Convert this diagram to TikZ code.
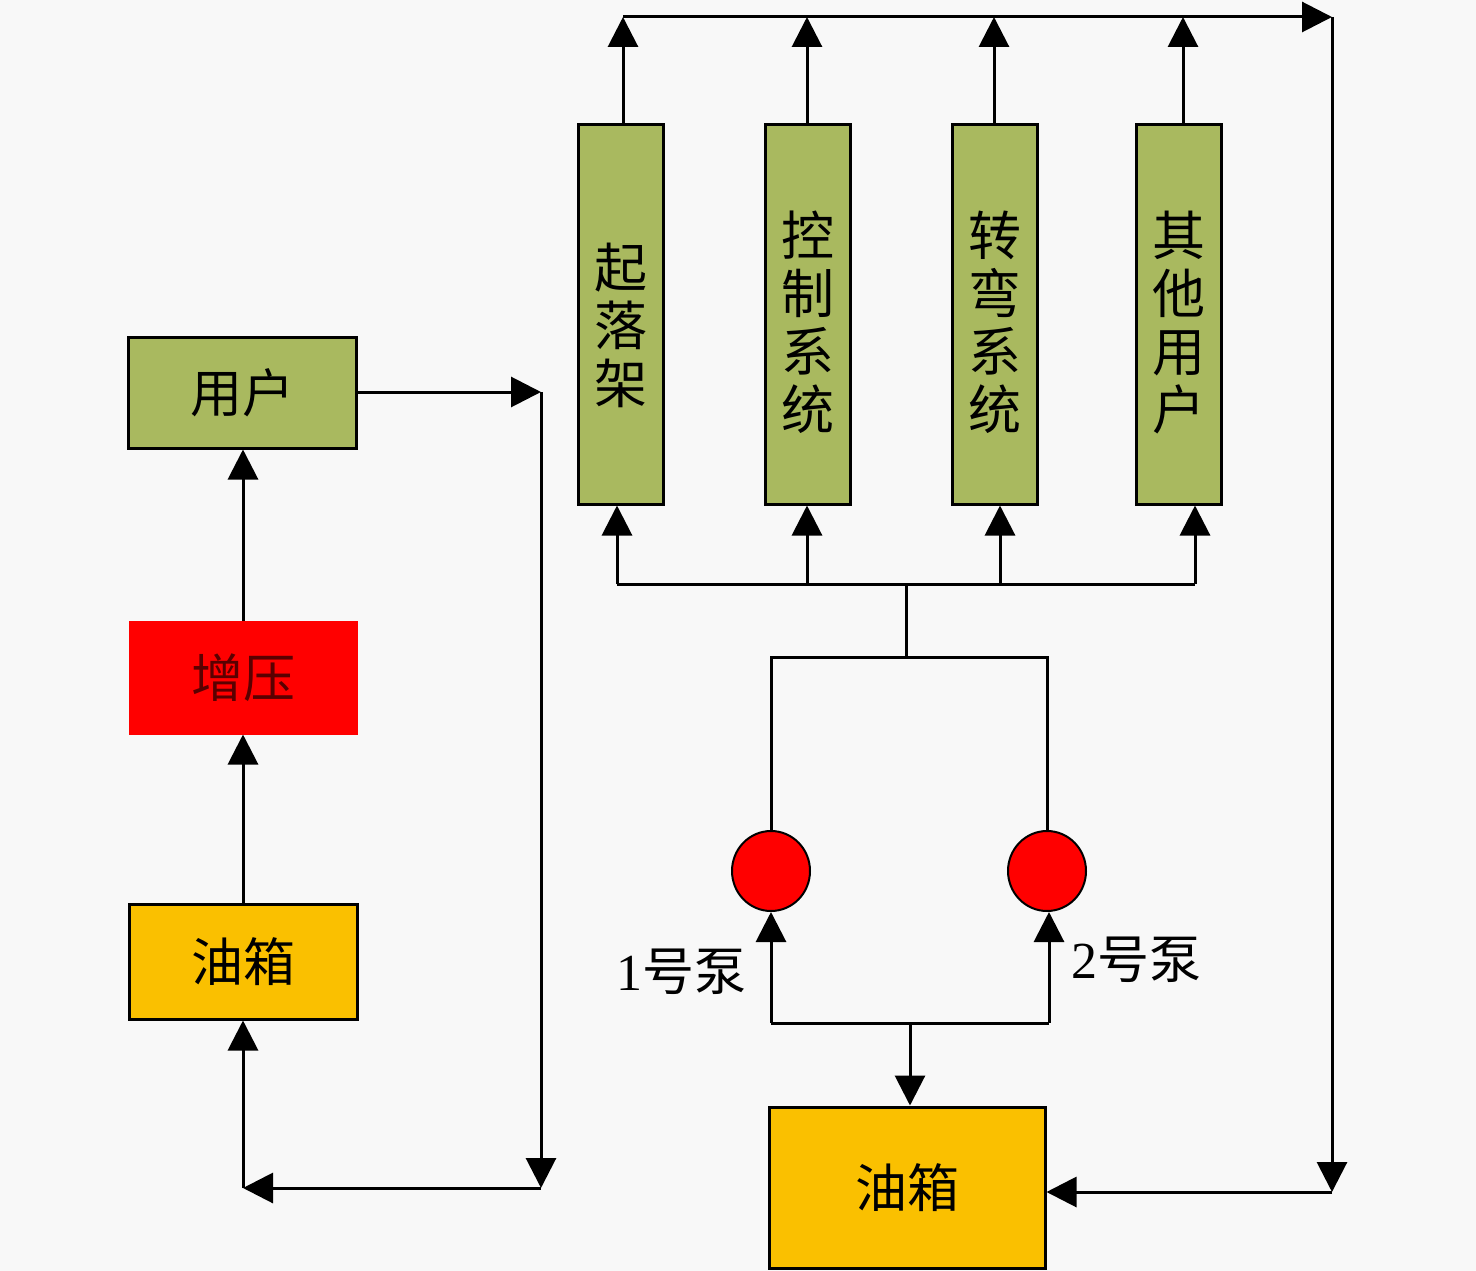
\documentclass[tikz,border=0pt]{standalone}
\usepackage{fontspec}
\setmainfont{Liberation Serif}
\newfontfamily\cjk{Noto Sans CJK SC}
\usetikzlibrary{arrows.meta,shapes.geometric}
\definecolor{bgc}{RGB}{248,248,248}
\definecolor{olivec}{RGB}{169,185,95}
\definecolor{goldc}{RGB}{250,192,0}
\definecolor{redc}{RGB}{255,0,0}
\definecolor{dredc}{RGB}{90,0,0}
\tikzset{
  boxbase/.style={rectangle, inner sep=0pt, line width=3pt, font=\cjk\fontsize{52}{60}\selectfont},
  olivebox/.style={boxbase, draw=black, fill=olivec},
  goldbox/.style={boxbase, draw=black, fill=goldc},
  redbox/.style={boxbase, draw=redc, fill=redc, text=dredc},
  vbox/.style={olivebox, minimum width=85pt, minimum height=379pt},
  vtxt/.style={inner sep=0pt, align=center, font=\cjk\fontsize{53}{56}\selectfont},
  pump/.style={ellipse, draw=black, line width=2pt, fill=redc, minimum width=78pt, minimum height=80pt, inner sep=0pt},
  lbl/.style={font=\fontsize{52}{56}\selectfont},
  conn/.style={line width=3pt, -{Triangle[length=30pt,width=30pt]}},
  wire/.style={line width=3pt}
}
\begin{document}
\begin{tikzpicture}[x=1pt,y=-1pt]
\fill[bgc] (0,0) rectangle (1476,1271);
\useasboundingbox (0,0) rectangle (1476,1271);

% left column
\node[olivebox, minimum width=228pt, minimum height=111pt] (user) at (242,392.5) {用户};
\node[redbox, minimum width=226pt, minimum height=111pt] (boost) at (243,677.5) {增压};
\node[goldbox, minimum width=228pt, minimum height=115pt] (tankL) at (243,961.5) {油箱};

\coordinate (c1) at (541,392);
\coordinate (c2) at (541,1188);
\coordinate (c3) at (243,1188);

\draw[conn] (boost.north) -- (boost.north |- user.south);
\draw[conn] (tankL.north) -- (boost.south);
\draw[conn] (c3) -- (tankL.south);
\draw[conn] (user.east |- c1) -- (c1);
\draw[conn] (c1) -- (c2);
\draw[conn] (c2) -- (c3);

% right consumers
\node[vbox] (b1) at (620.5,314.5) {};
\node[vbox] (b2) at (807.5,314.5) {};
\node[vbox] (b3) at (994.5,314.5) {};
\node[vbox] (b4) at (1178.5,314.5) {};
\node[vtxt] (b1t) at ([yshift=-11pt]b1.center) {起\\[2pt]落\\[2pt]架};
\node[vtxt] (b2t) at ([yshift=-8pt]b2.center) {控\\[2pt]制\\[2pt]系\\[2pt]统};
\node[vtxt] (b3t) at ([yshift=-8pt]b3.center) {转\\[2pt]弯\\[2pt]系\\[2pt]统};
\node[vtxt] (b4t) at ([yshift=-8pt]b4.center) {其\\[2pt]他\\[2pt]用\\[2pt]户};

\coordinate (t1) at (623,17);
\coordinate (t2) at (807,17);
\coordinate (t3) at (994,17);
\coordinate (t4) at (1183,17);
\coordinate (tr) at (1332,17);
\coordinate (br) at (1332,1192);

\draw[conn] (b1.north -| t1) -- (t1);
\draw[conn] (b2.north -| t2) -- (t2);
\draw[conn] (b3.north -| t3) -- (t3);
\draw[conn] (b4.north -| t4) -- (t4);
\draw[conn] (t1) -- (tr);
\draw[conn] (tr) -- (br);

% bottom tank
\node[goldbox, minimum width=276pt, minimum height=161pt] (tankR) at (907,1187.5) {油箱};
\draw[conn] (br) -- (tankR.east |- br);

% bus
\coordinate (s1) at (617,584);
\coordinate (s2) at (807,584);
\coordinate (s3) at (1000,584);
\coordinate (s4) at (1195,584);
\coordinate (sm) at (906,584);
\draw[wire] (s1) -- (s4);
\draw[conn] (s1) -- (s1 |- b1.south);
\draw[conn] (s2) -- (s2 |- b2.south);
\draw[conn] (s3) -- (s3 |- b3.south);
\draw[conn] (s4) -- (s4 |- b4.south);

% pumps
\node[pump] (p1) at (771,871) {};
\node[pump] (p2) at (1047,871) {};
\coordinate (m1) at (906,657);
\coordinate (m2) at (771,657);
\coordinate (m3) at (1047,657);
\draw[wire] (sm) -- (m1);
\draw[wire] (p1.north) -- (m2) -- (m3) -- (p2.north);

\coordinate (d1) at (771,1023);
\coordinate (d2) at (1049,1023);
\coordinate (dm) at (910,1023);
\draw[wire] (d1) -- (d2);
\draw[conn] (d1) -- (d1 |- p1.south);
\draw[conn] (d2) -- (d2 |- p2.south);
\draw[conn] (dm) -- (dm |- tankR.north);

\node[lbl] (l1) at (681,972) {1{\cjk 号泵}};
\node[lbl] (l2) at (1136,960) {2{\cjk 号泵}};
\end{tikzpicture}
\end{document}
